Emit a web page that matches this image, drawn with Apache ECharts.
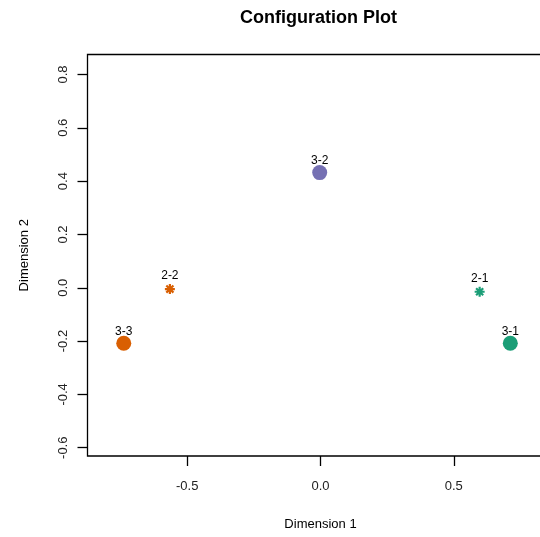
<!DOCTYPE html>
<html><head><meta charset="utf-8">
<script src="https://cdn.jsdelivr.net/npm/echarts@6/dist/echarts.min.js"></script>
<style>html,body{margin:0;padding:0;background:#fff}#c{width:540px;height:537px}</style>
</head><body><div id="c"></div>
<script>
const pointLabels = ["3-1", "3-2", "3-3", "2-1", "2-2"];
const dim1 = [0.712, -0.003, -0.738, 0.597, -0.565];
const dim2 = [-0.208, 0.432, -0.208, -0.015, -0.005];
const groupIdx = [0, 1, 2, 0, 2];
const pointKind = ["circle", "circle", "circle", "star", "star"];
const xTicks = [-0.5, 0.0, 0.5];
const yTicks = [-0.6, -0.4, -0.2, 0.0, 0.2, 0.4, 0.6, 0.8];

const palette = ["#1B9E77", "#7570B3", "#D95F02"];
const FONT = "Liberation Sans";
const starPath = "path://M0,-10L0,10M-10,0L10,0M-7.07,-7.07L7.07,7.07M-7.07,7.07L7.07,-7.07";

const data = pointLabels.map((lab, i) => {
  const col = palette[groupIdx[i]];
  const isStar = pointKind[i] === "star";
  return {
    name: lab,
    value: [dim1[i], dim2[i]],
    symbol: isStar ? starPath : "circle",
    symbolSize: isStar ? 10 : 15,
    itemStyle: isStar ? { color: "none", borderColor: col, borderWidth: 2.2, opacity: 1 } : { color: col, opacity: 1 },
    label: { distance: isStar ? 0 : -2 }
  };
});

const chart = echarts.init(document.getElementById("c"), null, { renderer: "canvas" });
chart.setOption({
  animation: false,
  backgroundColor: "#fff",
  title: {
    text: "Configuration Plot", left: 235, top: 4,
    textStyle: { fontFamily: FONT, fontWeight: "bold", fontSize: 18, color: "#000" }
  },
  grid: { left: 87.5, top: 54.5, width: 466, bottom: 81, outerBoundsMode: "none", containLabel: false,
    show: true, borderColor: "#000", borderWidth: 1.3, backgroundColor: "transparent" },
  xAxis: {
    type: "value", min: -0.874, max: 0.874,
    name: "Dimension 1", nameLocation: "middle", nameGap: 62,
    nameTextStyle: { fontFamily: FONT, fontSize: 13, color: "#000" },
    axisLine: { show: false, onZero: false },
    splitLine: { show: false },
    axisTick: { show: true, customValues: xTicks, length: 10, lineStyle: { color: "#000", width: 1.3 } },
    axisLabel: { customValues: xTicks, margin: 24, fontFamily: FONT, fontSize: 13, color: "#222",
      formatter: v => Number(v).toFixed(1) }
  },
  yAxis: {
    type: "value", min: -0.631, max: 0.875,
    name: "Dimension 2", nameLocation: "middle", nameGap: 57,
    nameTextStyle: { fontFamily: FONT, fontSize: 13, color: "#000" },
    axisLine: { show: false, onZero: false },
    splitLine: { show: false },
    axisTick: { show: true, customValues: yTicks, length: 10, lineStyle: { color: "#000", width: 1.3 } },
    axisLabel: { customValues: yTicks, margin: 18, rotate: 90, fontFamily: FONT, fontSize: 13, color: "#222",
      formatter: v => Number(v).toFixed(1) }
  },
  series: [{
    type: "scatter",
    data: data,
    itemStyle: { opacity: 1 },
    label: { show: true, position: "top", formatter: p => p.name, fontFamily: FONT, fontSize: 12, color: "#000" },
    emphasis: { disabled: true }
  }]
});
</script></body></html>
